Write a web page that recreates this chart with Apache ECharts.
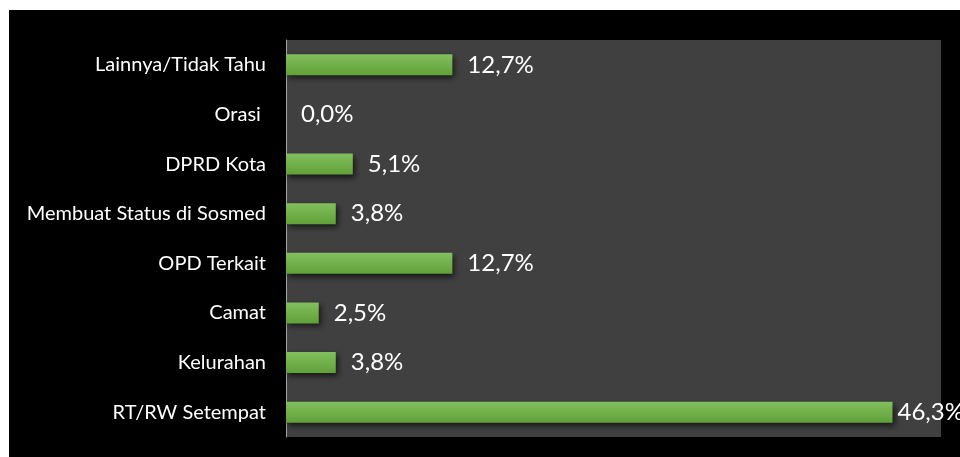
<!DOCTYPE html>
<html>
<head>
<meta charset="utf-8">
<script src="https://cdn.jsdelivr.net/npm/echarts@6/dist/echarts.min.js"></script>
<style>
  html, body { margin: 0; padding: 0; background: #ffffff; }
  #chart { position: absolute; left: 9px; top: 10px; width: 951px; height: 447px; }
</style>
</head>
<body>
<div id="chart"></div>
<script>
// Categories listed top to bottom
const categories = [
  'Lainnya/Tidak Tahu',
  'Orasi ',
  'DPRD Kota',
  'Membuat Status di Sosmed',
  'OPD Terkait',
  'Camat',
  'Kelurahan',
  'RT/RW Setempat'
];
// Share of respondents, percent
const shares = [12.7, 0.0, 5.1, 3.8, 12.7, 2.5, 3.8, 46.3];

const fmt = v => v.toFixed(1).replace('.', ',') + '%';
const FONT = 'Lato';

const chart = echarts.init(document.getElementById('chart'));
chart.setOption({
  backgroundColor: '#000000',
  animation: false,
  grid: {
    left: 277, right: 19, top: 30, bottom: 20,
    show: true, backgroundColor: '#404040', borderWidth: 0
  },
  xAxis: {
    type: 'value', min: 0, max: 50,
    show: false
  },
  yAxis: {
    type: 'category',
    data: categories,
    inverse: true,
    axisLine: { show: true, lineStyle: { color: '#a6a6a6', width: 1 } },
    axisTick: { show: false },
    axisLabel: {
      color: '#ffffff', fontFamily: FONT, fontSize: 20, margin: 20
    }
  },
  series: [{
    type: 'bar',
    barWidth: 21,
    data: shares.map((v, i) => ({
      value: v,
      label: i === shares.length - 1 ? { distance: 5 } : undefined
    })),
    itemStyle: {
      color: new echarts.graphic.LinearGradient(0, 0, 0, 1, [
        { offset: 0, color: '#82bf5e' },
        { offset: 1, color: '#60a038' }
      ]),
      shadowColor: 'rgba(0,0,0,0.65)',
      shadowBlur: 6,
      shadowOffsetX: 2,
      shadowOffsetY: 3
    },
    label: {
      show: true,
      position: 'right',
      distance: 15,
      color: '#ffffff',
      fontFamily: FONT,
      fontSize: 24,
      formatter: p => fmt(p.value)
    }
  }]
});
</script>
</body>
</html>
